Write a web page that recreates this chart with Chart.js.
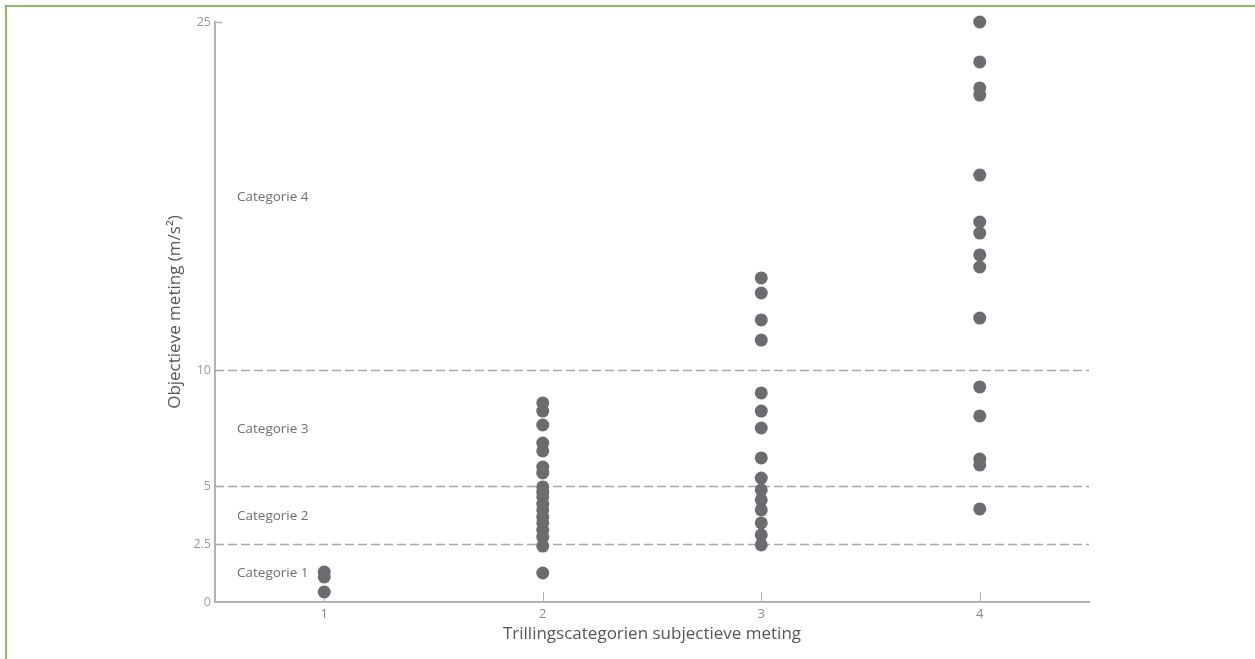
<!DOCTYPE html>
<html>
<head>
<meta charset="utf-8">
<title>Trillingscategorien</title>
<script src="https://cdn.jsdelivr.net/npm/chart.js@4/dist/chart.umd.min.js"></script>
<style>
    html, body { margin: 0; padding: 0; background: #fff; }
    #wrap { position: relative; width: 1255px; height: 659px; overflow: hidden; }
    #frame {
        position: absolute; left: 5px; top: 5px; right: 0; bottom: 0;
        border-top: 2px solid #8fbc6a; border-left: 2px solid #8fbc6a;
        pointer-events: none;
    }
</style>
</head>
<body>
<div id="wrap">
    <canvas id="chart" width="1255" height="659"></canvas>
    <div id="frame"></div>
</div>
<script>
// ---------------------------------------------------------
// Data
// ---------------------------------------------------------
const categories = [1, 2, 3, 4];

const cat1Values = [1.29, 1.08, 0.43];
const cat2Values = [8.58, 8.23, 7.63, 6.85, 6.51, 5.82, 5.56, 4.96, 4.74, 4.53, 4.22, 3.97, 3.66, 3.41, 3.10, 2.80, 2.41, 1.25];
const cat3Values = [13.97, 13.32, 12.16, 11.29, 9.01, 8.23, 7.50, 6.21, 5.34, 4.83, 4.40, 3.97, 3.41, 2.89, 2.46];
const cat4Values = [25.0, 23.28, 22.16, 21.85, 18.4, 16.38, 15.9, 14.96, 14.44, 12.24, 9.27, 8.02, 6.16, 5.91, 4.01];

const yTicks = [0, 2.5, 5, 10, 25];
const thresholds = [2.5, 5, 10];

const bandLabels = ['Categorie 1', 'Categorie 2', 'Categorie 3', 'Categorie 4'];
const bandLabelY = [1.25, 3.7, 7.45, 17.45];

// ---------------------------------------------------------
// Build points
// ---------------------------------------------------------
const allValues = [cat1Values, cat2Values, cat3Values, cat4Values];
const points = [];
categories.forEach((c, i) => {
    allValues[i].forEach(v => points.push({ x: c, y: v }));
});

const AXIS = '#b3b3b3';

// dashed thresholds, inner tick marks and band labels
const decorations = {
    id: 'decorations',
    beforeDatasetsDraw(chart) {
        const { ctx, chartArea, scales } = chart;
        const x = scales.x, y = scales.y;
        ctx.save();

        // dashed category limits
        ctx.strokeStyle = '#a8a8a8';
        ctx.lineWidth = 1.5;
        ctx.setLineDash([9, 4]);
        thresholds.forEach(t => {
            const py = Math.round(y.getPixelForValue(t)) + 0.5;
            ctx.beginPath();
            ctx.moveTo(chartArea.left, py);
            ctx.lineTo(chartArea.right, py);
            ctx.stroke();
        });
        ctx.setLineDash([]);

        // tick at top of y axis
        ctx.strokeStyle = AXIS;
        ctx.lineWidth = 1.5;
        const pTop = Math.round(y.getPixelForValue(25)) + 0.5;
        ctx.beginPath();
        ctx.moveTo(chartArea.left, pTop);
        ctx.lineTo(chartArea.left + 7, pTop);
        ctx.stroke();

        // inner ticks on x axis
        ctx.lineWidth = 1;
        categories.forEach(c => {
            const px = Math.round(x.getPixelForValue(c)) + 0.5;
            ctx.beginPath();
            ctx.moveTo(px, chartArea.bottom);
            ctx.lineTo(px, chartArea.bottom - 10);
            ctx.stroke();
        });

        // band labels
        ctx.fillStyle = '#6f6f6f';
        ctx.font = '13.5px "Open Sans"';
        ctx.textAlign = 'left';
        ctx.textBaseline = 'middle';
        bandLabels.forEach((lbl, i) => {
            ctx.fillText(lbl, chartArea.left + 22, y.getPixelForValue(bandLabelY[i]));
        });

        ctx.restore();
    }
};

new Chart(document.getElementById('chart'), {
    type: 'scatter',
    data: {
        datasets: [{
            data: points,
            backgroundColor: '#6b6b70',
            borderColor: '#6b6b70',
            borderWidth: 0,
            pointRadius: 6.5,
            pointHoverRadius: 6.5,
            clip: false
        }]
    },
    options: {
        responsive: false,
        animation: false,
        events: [],
        layout: { padding: { left: 0, top: 22, right: 166, bottom: 0 } },
        plugins: {
            legend: { display: false },
            tooltip: { enabled: false }
        },
        scales: {
            x: {
                type: 'linear',
                min: 0.5,
                max: 4.5,
                afterBuildTicks: s => { s.ticks = categories.map(v => ({ value: v })); },
                afterFit: s => { s.height = 57; },
                grid: { display: false, drawTicks: false },
                border: { display: true, color: AXIS, width: 2 },
                ticks: {
                    padding: 4,
                    color: '#8a8a8a',
                    font: { family: 'Open Sans', size: 13 }
                },
                title: {
                    display: true,
                    text: 'Trillingscategorien subjectieve meting',
                    color: '#555',
                    font: { family: 'Open Sans', size: 17 },
                    padding: { top: 0, bottom: 15 }
                }
            },
            y: {
                type: 'linear',
                min: 0,
                max: 25,
                afterBuildTicks: s => { s.ticks = yTicks.map(v => ({ value: v })); },
                afterFit: s => { s.width = 215; },
                grid: { display: false, drawTicks: false },
                border: { display: true, color: AXIS, width: 2 },
                ticks: {
                    padding: 4,
                    color: '#999',
                    font: { family: 'Open Sans', size: 12.5 },
                    callback: v => String(v)
                },
                title: {
                    display: true,
                    text: 'Objectieve meting (m/s²)',
                    color: '#555',
                    font: { family: 'Open Sans', size: 17 },
                    padding: { top: 165, bottom: 0 }
                }
            }
        }
    },
    plugins: [decorations]
});
</script>
</body>
</html>
